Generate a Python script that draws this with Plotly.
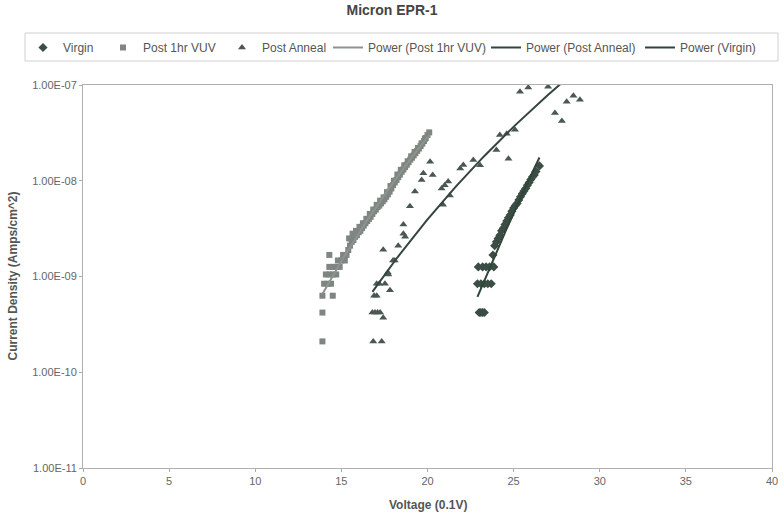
import numpy as np
import plotly.graph_objects as go

# ---------------- data ----------------
virgin_x = [23.0, 23.1, 23.2, 23.3, 22.9, 23.1, 23.3, 23.5, 23.7, 22.95, 23.2, 23.4, 23.6, 23.85,
            23.8, 23.9, 24.0, 24.1, 24.2, 24.3, 24.4, 24.5, 24.6, 24.7, 24.8, 24.9, 25.0, 25.1,
            25.2, 25.3, 25.4, 25.5, 25.6, 25.7, 25.8, 25.9, 26.0, 26.1, 26.2, 26.3, 26.5]
virgin_y = [4.2e-10, 4.2e-10, 4.2e-10, 4.2e-10, 8.4e-10, 8.4e-10, 8.4e-10, 8.4e-10, 8.4e-10,
            1.26e-9, 1.26e-9, 1.26e-9, 1.26e-9, 1.26e-9, 1.68e-9, 2.1e-9, 2.3e-9, 2.5e-9, 2.7e-9,
            3.0e-9, 3.2e-9, 3.5e-9, 3.8e-9, 4.1e-9, 4.4e-9, 4.8e-9, 5.2e-9, 5.5e-9, 5.8e-9, 6.3e-9,
            6.8e-9, 7.3e-9, 7.8e-9, 8.3e-9, 9.0e-9, 9.6e-9, 1.03e-8, 1.1e-8, 1.15e-8, 1.25e-8, 1.43e-8]

vuv_x = [13.9, 13.9, 13.9, 14.0, 14.2, 14.4, 14.5, 14.1, 14.3, 14.5, 14.7, 14.3, 14.5, 14.7, 14.9,
         14.3, 14.8, 15.0, 15.2, 15.1, 15.3, 15.4, 15.5,
         15.6, 15.7, 15.8, 15.9, 16.0, 16.1, 16.2, 16.3, 16.4, 16.5, 16.6, 16.7, 16.8, 16.9,
         17.0, 17.1, 17.2, 17.3, 17.4, 17.5, 17.6, 17.7, 17.8, 17.9, 18.0, 18.1, 18.2, 18.3,
         18.4, 18.5, 18.6, 18.7, 18.8, 18.9, 19.0, 19.1, 19.2, 19.3, 19.4, 19.5, 19.6, 19.7,
         19.8, 19.9, 20.0, 20.1,
         15.45, 15.65, 15.85, 16.05, 16.25, 16.45, 16.65, 16.85, 17.05, 17.25, 17.45, 17.65,
         17.85, 18.05, 18.25, 18.45, 18.65, 18.85, 19.05, 19.25, 19.45, 19.65, 19.85]
vuv_y = [2.1e-10, 4.2e-10, 6.3e-10, 8.4e-10, 8.4e-10, 8.4e-10, 6.3e-10, 1.05e-9, 1.05e-9, 1.05e-9,
         1.05e-9, 1.26e-9, 1.26e-9, 1.26e-9, 1.26e-9, 1.68e-9, 1.47e-9, 1.47e-9, 1.47e-9, 1.68e-9,
         1.68e-9, 1.89e-9, 2.1e-9,
         2.3e-9, 2.4e-9, 2.6e-9, 2.7e-9, 2.9e-9, 3.0e-9, 3.2e-9, 3.4e-9, 3.6e-9, 3.8e-9, 4.0e-9,
         4.2e-9, 4.5e-9, 4.8e-9, 5.0e-9, 5.3e-9, 5.5e-9, 5.8e-9, 6.1e-9, 6.4e-9, 6.8e-9, 7.2e-9,
         7.7e-9, 8.3e-9, 9.0e-9, 9.6e-9, 1.02e-8, 1.09e-8, 1.16e-8, 1.24e-8, 1.31e-8, 1.39e-8,
         1.47e-8, 1.56e-8, 1.66e-8, 1.74e-8, 1.84e-8, 1.94e-8, 2.05e-8, 2.17e-8, 2.3e-8, 2.45e-8,
         2.6e-8, 2.8e-8, 3.0e-8, 3.2e-8,
         2.5e-9, 2.8e-9, 3.0e-9, 3.3e-9, 3.6e-9, 4.0e-9, 4.5e-9, 5.0e-9, 5.6e-9, 6.2e-9, 6.7e-9,
         7.6e-9, 8.8e-9, 1.0e-8, 1.16e-8, 1.3e-8, 1.45e-8, 1.6e-8, 1.8e-8, 2.0e-8, 2.2e-8,
         2.45e-8, 2.75e-8]

anneal_x = [16.85, 17.34, 17.43, 16.8, 16.95, 17.1, 17.25, 17.05, 16.9, 17.82, 17.05, 17.2,
            17.53, 17.72, 17.7, 18.1, 18.0, 18.3, 17.43, 18.6, 18.6, 18.7, 18.98, 19.27, 19.66,
            19.76, 20.3, 20.15, 20.82, 21.0, 21.2, 20.9, 21.3, 21.9, 22.08, 22.66, 23.05, 24.0,
            24.7, 24.2, 24.6, 25.08, 25.37, 25.85, 27.0, 27.4, 27.8, 28.08, 28.47, 28.85]
anneal_y = [2.1e-10, 2.1e-10, 3.7e-10, 4.2e-10, 4.2e-10, 4.2e-10, 4.2e-10, 6.3e-10, 6.3e-10,
            7.2e-10, 8.4e-10, 8.4e-10, 8.4e-10, 1.05e-9, 1.1e-9, 1.47e-9, 1.47e-9, 2.1e-9, 1.9e-9,
            2.8e-9, 3.5e-9, 2.6e-9, 5.4e-9, 7.7e-9, 1.02e-8, 1.2e-8, 1.15e-8, 1.58e-8, 8.3e-9,
            9.0e-9, 9.8e-9, 5.6e-9, 7.0e-9, 1.34e-8, 1.46e-8, 1.65e-8, 1.45e-8, 2.1e-8, 1.7e-8,
            3.0e-8, 3.1e-8, 3.4e-8, 8.5e-8, 9.4e-8, 9.6e-8, 5.1e-8, 4.2e-8, 6.7e-8, 7.7e-8, 7.0e-8]

x_ticks = [0, 5, 10, 15, 20, 25, 30, 35, 40]
y_ticks = [1e-11, 1e-10, 1e-9, 1e-8, 1e-7]
y_tick_labels = ["1.00E-11", "1.00E-10", "1.00E-09", "1.00E-08", "1.00E-07"]


def power_fit(xs, ys, n=80):
    """Least-squares power trendline y = a*x^b (fit of ln y on ln x, as Excel does)."""
    xs = np.asarray(xs, float)
    ys = np.asarray(ys, float)
    b, ln_a = np.polyfit(np.log(xs), np.log(ys), 1)
    xf = np.linspace(xs.min(), xs.max(), n)
    return xf, np.exp(ln_a) * xf ** b


FONT = "Arial, Liberation Sans, sans-serif"
C_VIRGIN = "#3b4d44"
C_VUV = "#7f8581"
C_ANNEAL = "#4b5852"

# one legend box per entry so the entries sit where the reference puts them
legend_ids = ["legend", "legend2", "legend3", "legend4", "legend5", "legend6"]
legend_left_px = [23, 103, 222, 328, 486, 640]

fig = go.Figure()
fig.add_trace(go.Scatter(x=virgin_x, y=virgin_y, mode="markers", name="Virgin",
                         legend=legend_ids[0],
                         marker=dict(symbol="diamond", size=7, color=C_VIRGIN)))
fig.add_trace(go.Scatter(x=vuv_x, y=vuv_y, mode="markers", name="Post 1hr VUV",
                         legend=legend_ids[1],
                         marker=dict(symbol="square", size=6, color=C_VUV)))
fig.add_trace(go.Scatter(x=anneal_x, y=anneal_y, mode="markers", name="Post Anneal",
                         legend=legend_ids[2],
                         marker=dict(symbol="triangle-up", size=7, color=C_ANNEAL)))

for (xs, ys, name, col), lid in zip(
        [(vuv_x, vuv_y, "Power (Post 1hr VUV)", "#8d948f"),
         (anneal_x, anneal_y, "Power (Post Anneal)", "#35443c"),
         (virgin_x, virgin_y, "Power (Virgin)", "#2f4639")], legend_ids[3:]):
    xf, yf = power_fit(xs, ys)
    fig.add_trace(go.Scatter(x=xf, y=yf, mode="lines", name=name, legend=lid,
                             line=dict(color=col, width=2)))

legend_common = dict(orientation="h", xref="container", yref="paper", y=1.1358,
                     xanchor="left", yanchor="top", borderwidth=0,
                     bgcolor="rgba(0,0,0,0)", itemwidth=30,
                     font=dict(family=FONT, size=12, color="#555555"))
legend_layout = {lid: dict(legend_common, x=px / 784) for lid, px in zip(legend_ids, legend_left_px)}

fig.update_layout(
    width=784, height=516,
    margin=dict(l=83, r=12, t=85, b=48, autoexpand=False),
    paper_bgcolor="white", plot_bgcolor="white",
    font=dict(family=FONT, size=11, color="#555555"),
    title=dict(text="<b>Micron EPR-1</b>", x=0.5, xanchor="center", y=0.99, yanchor="top",
               font=dict(family=FONT, size=14, color="#444444")),
    showlegend=True,
    shapes=[dict(type="rect", xref="paper", yref="paper",
                 x0=(25 - 83) / 689, x1=(778 - 83) / 689,
                 y0=(468 - 61) / 383, y1=(468 - 33) / 383,
                 line=dict(color="#d0d0d0", width=1), fillcolor="rgba(0,0,0,0)", layer="below")],
    annotations=[
        dict(text="<b>Voltage (0.1V)</b>", xref="paper", yref="paper", x=0.5, y=0,
             yshift=-37, xanchor="center", yanchor="middle", showarrow=False,
             font=dict(family=FONT, size=12, color="#555555")),
        dict(text="<b>Current Density (Amps/cm^2)</b>", xref="paper", yref="paper",
             x=0, xshift=-71, y=0.5, xanchor="center", yanchor="middle", textangle=-90,
             showarrow=False, font=dict(family=FONT, size=12, color="#555555")),
    ],
    **legend_layout,
)
fig.update_xaxes(range=[0, 40], tickvals=x_ticks, ticks="outside", ticklen=3,
                 tickcolor="#aaaaaa", showgrid=False, zeroline=False, automargin=False,
                 showline=True, linecolor="#b0b0b0", linewidth=1, mirror=True,
                 tickfont=dict(family=FONT, size=11, color="#666666"))
fig.update_yaxes(type="log", range=[-11, -7], tickvals=y_ticks, ticktext=y_tick_labels,
                 ticks="outside", ticklen=3, tickcolor="#aaaaaa", showgrid=False,
                 zeroline=False, showline=True, linecolor="#b0b0b0", linewidth=1, mirror=True,
                 automargin=False,
                 tickfont=dict(family=FONT, size=11, color="#666666"))

fig.write_html("out.html", config={"displayModeBar": False},
               post_script="document.body.style.margin='0';")
